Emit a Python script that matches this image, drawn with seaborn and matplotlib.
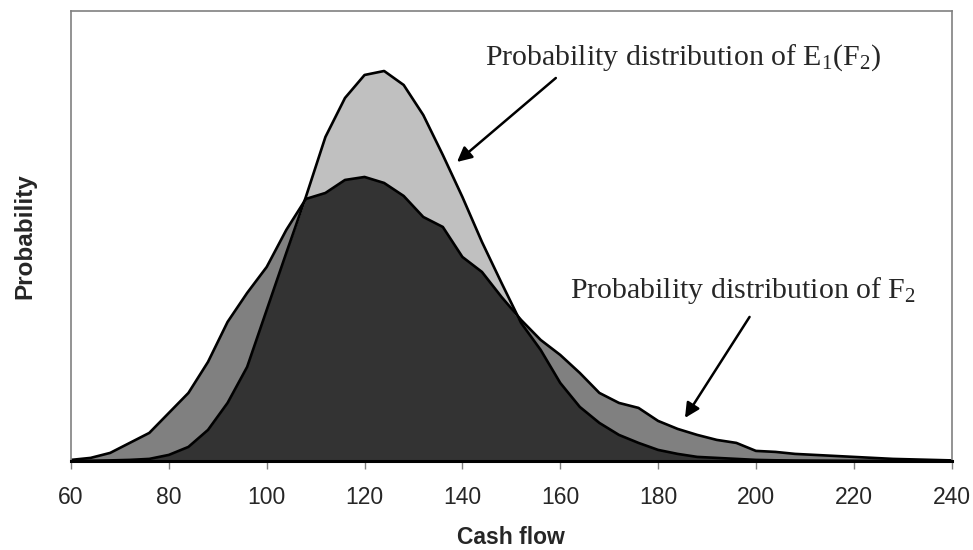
import numpy as np
import pandas as pd
import matplotlib
matplotlib.use("Agg")
import matplotlib.pyplot as plt
import seaborn as sns

# ---- data ----
cash_flow = [60, 64, 68, 72, 76, 80, 84, 88, 92, 96, 100, 104, 108, 112, 116, 120,
             124, 128, 132, 136, 140, 144, 148, 152, 156, 160, 164, 168, 172, 176,
             180, 184, 188, 192, 196, 200, 204, 208, 212, 216, 220, 224, 228, 232,
             236, 240]
prob_f2 = [0.0001, 0.0003, 0.0008, 0.0018, 0.0028, 0.0048, 0.0068, 0.0099, 0.0139,
           0.0168, 0.0194, 0.0231, 0.0262, 0.0268, 0.0281, 0.0284, 0.0278, 0.0265,
           0.0244, 0.0234, 0.0204, 0.0189, 0.0164, 0.0141, 0.0121, 0.0106, 0.0088,
           0.0068, 0.0058, 0.0053, 0.0040, 0.0032, 0.0026, 0.0021, 0.0018, 0.0010,
           0.0009, 0.0007, 0.0006, 0.0005, 0.0004, 0.0003, 0.0002, 0.00015, 0.0001,
           0.00005]
prob_e1f2 = [0.0, 0.00002, 0.00005, 0.0001, 0.0002, 0.0006, 0.0014, 0.0031, 0.0058,
             0.0094, 0.0151, 0.0208, 0.0264, 0.0324, 0.0363, 0.0386, 0.0390, 0.0376,
             0.0346, 0.0306, 0.0264, 0.0219, 0.0178, 0.0138, 0.0111, 0.0078, 0.0054,
             0.0038, 0.0026, 0.0018, 0.0011, 0.0007, 0.0004, 0.0003, 0.0002, 0.0001,
             0.00006, 0.00004, 0.00003, 0.00002, 0.00001, 0.00001, 0.0, 0.0, 0.0, 0.0]
x_ticks = [60, 80, 100, 120, 140, 160, 180, 200, 220, 240]
label_e1 = r"Probability distribution of E$_\mathrm{1}$(F$_\mathrm{2}$)"
label_f2 = r"Probability distribution of F$_\mathrm{2}$"

df = pd.DataFrame({"cash": cash_flow, "f2": prob_f2, "e1": prob_e1f2})

sns.set_style("white")
plt.rcParams["font.family"] = ["Liberation Sans", "DejaVu Sans"]
plt.rcParams["mathtext.fontset"] = "custom"
plt.rcParams["mathtext.rm"] = "Liberation Serif"
plt.rcParams["mathtext.it"] = "Liberation Serif:italic"

fig = plt.figure(figsize=(9.73, 5.5), dpi=100)
ax = fig.add_axes([0.073, 0.162, 0.905, 0.818])

x = df["cash"].to_numpy()
f2 = df["f2"].to_numpy()
e1 = df["e1"].to_numpy()
overlap = np.minimum(f2, e1)

ax.fill_between(x, 0, f2, color="#808080", linewidth=0)
ax.fill_between(x, 0, e1, color="#C0C0C0", linewidth=0)
ax.fill_between(x, 0, overlap, color="#333333", linewidth=0)

sns.lineplot(data=df, x="cash", y="f2", ax=ax, color="black", linewidth=1.9)
sns.lineplot(data=df, x="cash", y="e1", ax=ax, color="black", linewidth=1.9)

ax.set_xlim(60, 240)
ax.set_ylim(0, 0.045)
ax.set_xticks(x_ticks)
ax.set_xticklabels([str(t) for t in x_ticks], fontsize=16.5)
ax.set_yticks([])
ax.tick_params(axis="x", direction="out", length=6, width=1, color="#808080",
               pad=12, bottom=True)

for side in ["left", "top", "right"]:
    ax.spines[side].set_color("#808080")
    ax.spines[side].set_linewidth(1.2)
ax.spines["bottom"].set_color("black")
ax.spines["bottom"].set_linewidth(2.2)

ax.set_xlabel("Cash flow", fontsize=16.5, fontweight="bold", labelpad=12)
ax.set_ylabel("Probability", fontsize=17.5, fontweight="bold", labelpad=25)

ax.text(144.6, 0.0396, label_e1, fontsize=21.5, family=["Liberation Serif"],
        va="baseline", ha="left")
ax.text(162.0, 0.0163, label_f2, fontsize=21.5, family=["Liberation Serif"],
        va="baseline", ha="left")

arrow_kw = dict(arrowstyle="-|>", color="black", lw=1.8, mutation_scale=22,
                shrinkA=0, shrinkB=0)
ax.annotate("", xy=(138.9, 0.0299), xytext=(159.1, 0.0383), arrowprops=arrow_kw)
ax.annotate("", xy=(185.5, 0.0043), xytext=(198.7, 0.0144), arrowprops=arrow_kw)

fig.savefig("out.png", dpi=100)
